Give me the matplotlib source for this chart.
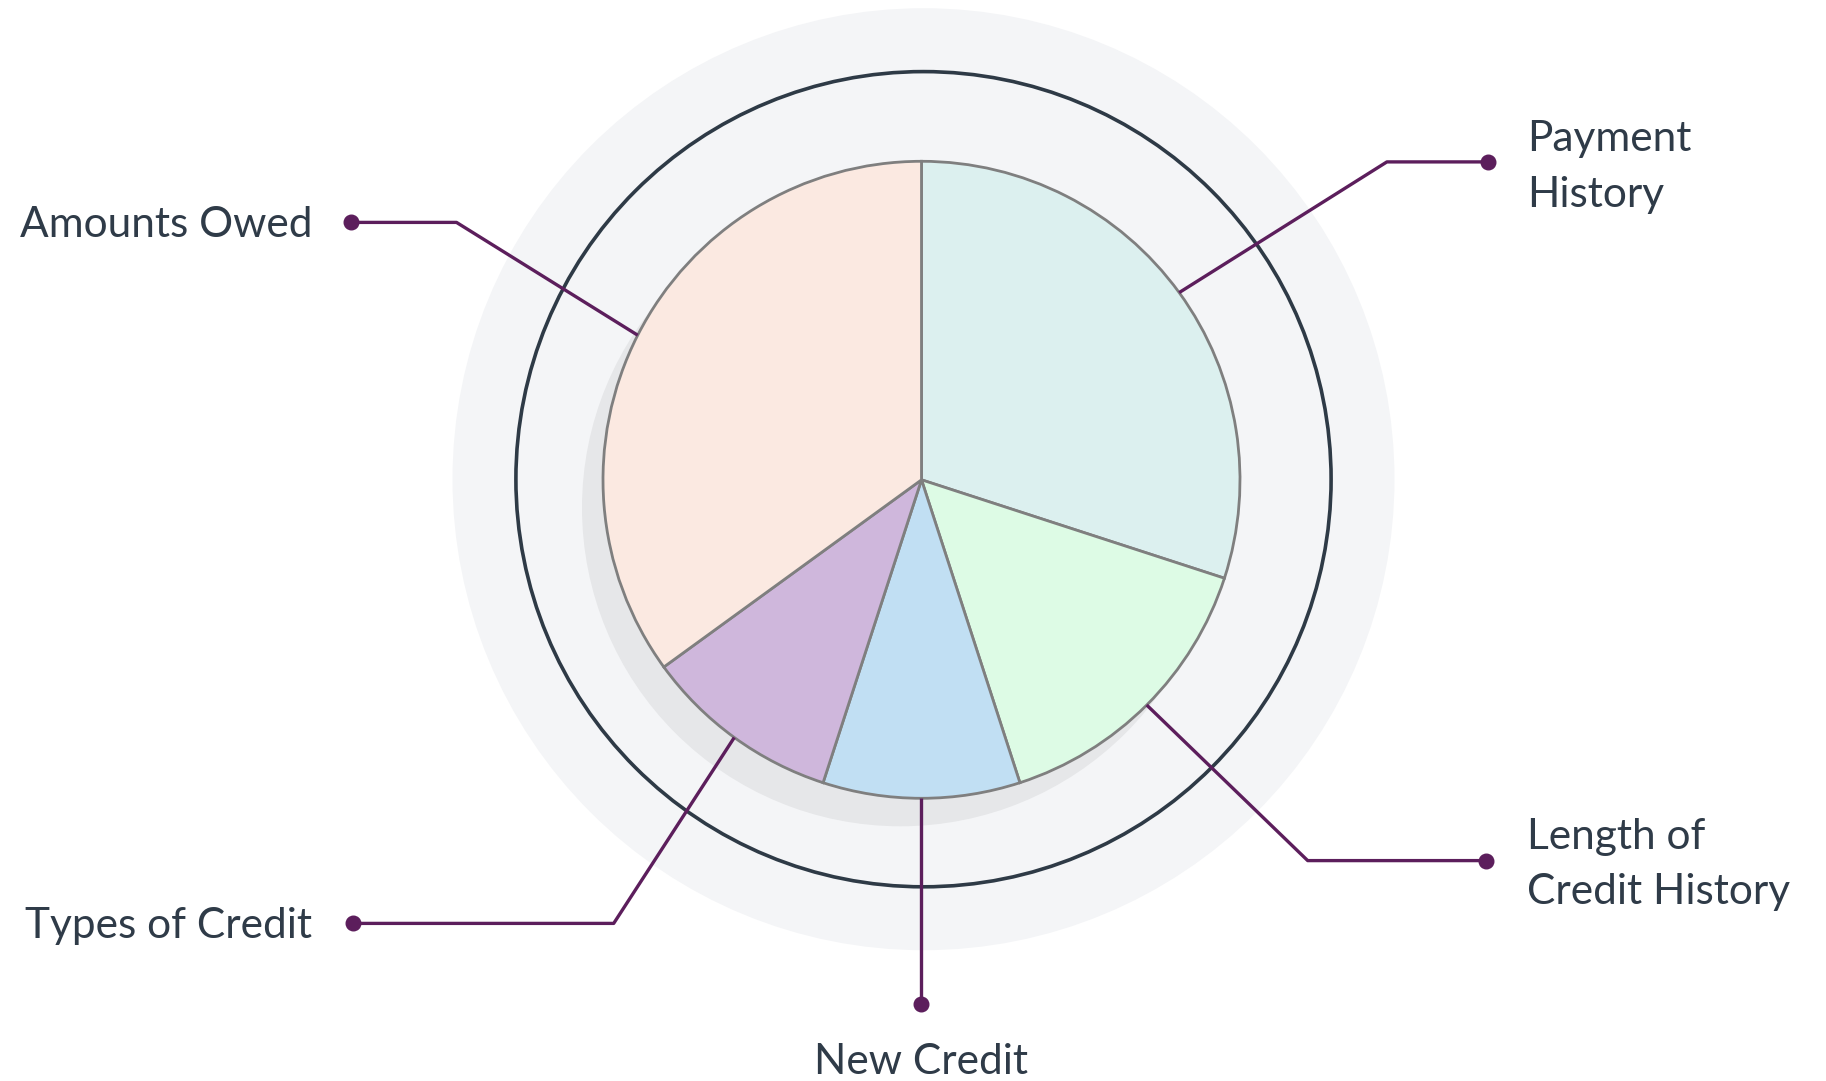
import numpy as np
import matplotlib
matplotlib.use("Agg")
import matplotlib.pyplot as plt
from matplotlib.patches import Circle

categories = ["Payment History", "Length of Credit History", "New Credit", "Types of Credit", "Amounts Owed"]
labels = ["Payment\nHistory", "Length of\nCredit History", "New Credit", "Types of Credit", "Amounts Owed"]
values = [30, 15, 10, 10, 35]
colors = ["#dcf0ef", "#ddfbe5", "#c1dff3", "#cfb7dc", "#fbe9e1"]

W, H = 1826, 1081
fig = plt.figure(figsize=(W / 100, H / 100), dpi=100)
ax = fig.add_axes([0, 0, 1, 1])
ax.set_xlim(0, W)
ax.set_ylim(0, H)
ax.set_aspect("equal")
ax.axis("off")

cx, cy = 921.5, H - 479.8
R = 318.5

ax.add_patch(Circle((923.5, H - 479.2), 471, facecolor="#f4f5f7", edgecolor="none", zorder=0))
ax.add_patch(Circle((923.5, H - 479.2), 407.6, facecolor="none", edgecolor="#2e3a46", lw=2.6, zorder=1))
ax.add_patch(Circle((cx - 21, cy - 28), R, facecolor="#e6e7e9", edgecolor="none", zorder=2))

wedges, _ = ax.pie(values, colors=colors, startangle=90, counterclock=False,
                   center=(cx, cy), radius=R, frame=True,
                   wedgeprops=dict(edgecolor="#7f7f7f", linewidth=2.0))
for w in wedges:
    w.set_zorder(3)
ax.set_xlim(0, W)
ax.set_ylim(0, H)
ax.axis("off")

# leader geometry: (elbow, dot, text anchor, ha)
leaders = [
    ((1386.9, H - 161.9), (1488.2, H - 161.9), (1526.7, H - 167.0), "left"),
    ((1307.7, H - 860.6), (1485.9, H - 860.6), (1526.7, H - 864.5), "left"),
    (None, (None, H - 1003.8), (None, H - 1061.5), "center"),
    ((613.7, H - 923.4), (352.8, H - 923.4), (312.0, H - 925.8), "right"),
    ((456.5, H - 222.4), (350.5, H - 222.4), (312.0, H - 224.8), "right"),
]
lc = "#5c1e5c"
tc = "#2f3b48"
for w, lab, (elbow, dot, tpos, ha) in zip(wedges, labels, leaders):
    mid = np.deg2rad((w.theta1 + w.theta2) / 2)
    sx, sy = cx + R * np.cos(mid), cy + R * np.sin(mid)
    if elbow is None:
        xs = [sx, sx]
        ys = [sy, dot[1]]
        dx = sx
        tx = sx
    else:
        xs = [sx, elbow[0], dot[0]]
        ys = [sy, elbow[1], dot[1]]
        dx = dot[0]
        tx = tpos[0]
    ax.plot(xs, ys, color=lc, lw=2.4, zorder=5, solid_capstyle="butt")
    ax.plot([dx], [dot[1]], "o", color=lc, ms=10.5, zorder=6)
    ax.text(tx, tpos[1], lab, ha=ha, va="center", fontsize=30.5, color=tc,
            family="Lato", linespacing=1.56, zorder=7)

fig.savefig("out.png", dpi=100)
